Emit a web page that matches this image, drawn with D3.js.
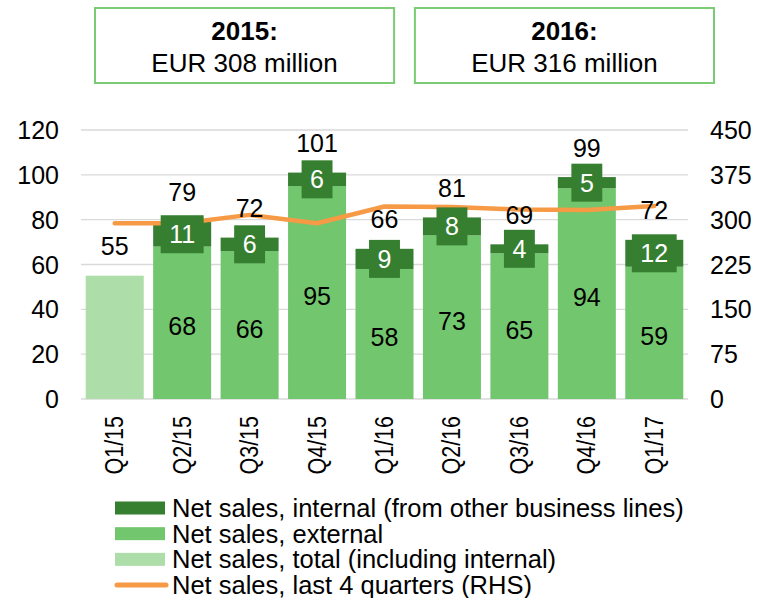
<!DOCTYPE html>
<html>
<head>
<meta charset="utf-8">
<script src="https://cdn.jsdelivr.net/npm/d3@7/dist/d3.min.js"></script>
<style>
  body { margin: 0; background: #fff; }
  text { font-family: "Liberation Sans", Arial, sans-serif; fill: #000; }
</style>
</head>
<body>
<div id="chart"></div>
<script>
(function() {
  var width = 765, height = 598

  var quarters = ['Q1/15', 'Q2/15', 'Q3/15', 'Q4/15', 'Q1/16', 'Q2/16', 'Q3/16', 'Q4/16', 'Q1/17']
  var external = [null, 68, 66, 95, 58, 73, 65, 94, 59]
  var internal = [null, 11, 6, 6, 9, 8, 4, 5, 12]
  var totals = [55, 79, 72, 101, 66, 81, 69, 99, 72]
  var rolling = [294, 294, 308, 294, 322, 321, 317, 316, 323]

  var leftTicks = [0, 20, 40, 60, 80, 100, 120]
  var rightTicks = [0, 75, 150, 225, 300, 375, 450]

  var yearBoxes = [
    {"year": "2015:", "text": "EUR 308 million"},
    {"year": "2016:", "text": "EUR 316 million"}]

  var legendItems = [
    {"label": "Net sales, internal (from other business lines)", "kind": "internal"},
    {"label": "Net sales, external", "kind": "external"},
    {"label": "Net sales, total (including internal)", "kind": "total"},
    {"label": "Net sales, last 4 quarters (RHS)", "kind": "line"}]

  var colors = {
    internal: "#367f31",
    external: "#72c66e",
    total: "#addda8",
    line: "#f79a45",
    grid: "#d9d9d9",
    box: "#7acb73"
  }

  var svg = d3.select("#chart")
    .append("svg")
    .attr("width", width)
    .attr("height", height)

  var xScale = d3.scaleBand().domain(quarters).range([81, 688]).paddingInner(0.14).paddingOuter(0.07)
  var yScale = d3.scaleLinear().domain([0, 120]).range([399, 130])
  var y2Scale = d3.scaleLinear().domain([0, 450]).range([399, 130])

  var rows = quarters.map(function(q, i) {
    return {q: q, ext: external[i], int: internal[i], total: totals[i], roll: rolling[i]}
  })

  // year boxes on top
  var boxScale = d3.scaleBand().domain(yearBoxes.map(function(d) { return d.year })).range([95, 714]).paddingInner(0.065)
  var boxes = svg.selectAll(".yearbox")
    .data(yearBoxes)
    .enter().append("g")
    .attr("class", "yearbox")
    .attr("transform", function(d) { return "translate(" + boxScale(d.year) + ",8)" })

  boxes.append("rect")
    .attr("width", boxScale.bandwidth())
    .attr("height", 75)
    .attr("fill", "none")
    .attr("stroke", colors.box)
    .attr("stroke-width", 2)

  boxes.append("text")
    .attr("x", boxScale.bandwidth() / 2)
    .attr("y", 32)
    .style("font-size", "26px")
    .style("font-weight", "bold")
    .style("text-anchor", "middle")
    .text(function(d) { return d.year })

  boxes.append("text")
    .attr("x", boxScale.bandwidth() / 2)
    .attr("y", 64)
    .style("font-size", "26px")
    .style("text-anchor", "middle")
    .text(function(d) { return d.text })

  // gridlines
  svg.selectAll(".grid")
    .data(leftTicks)
    .enter().append("line")
    .attr("class", "grid")
    .attr("x1", 81)
    .attr("x2", 688)
    .attr("y1", function(d) { return yScale(d) })
    .attr("y2", function(d) { return yScale(d) })
    .attr("stroke", colors.grid)
    .attr("stroke-width", 1.3)

  // axis labels
  svg.selectAll(".ltick")
    .data(leftTicks)
    .enter().append("text")
    .attr("class", "ltick")
    .attr("x", 59)
    .attr("y", function(d) { return yScale(d) + 9 })
    .style("font-size", "25px")
    .style("text-anchor", "end")
    .text(function(d) { return d })

  svg.selectAll(".rtick")
    .data(rightTicks)
    .enter().append("text")
    .attr("class", "rtick")
    .attr("x", 710)
    .attr("y", function(d) { return y2Scale(d) + 9 })
    .style("font-size", "25px")
    .style("text-anchor", "start")
    .text(function(d) { return d })

  svg.selectAll(".xlabel")
    .data(quarters)
    .enter().append("text")
    .attr("class", "xlabel")
    .attr("transform", function(d) {
      return "translate(" + (xScale(d) + xScale.bandwidth() / 2 + 8.5) + ",416) rotate(-90) scale(0.86,1)"
    })
    .style("font-size", "25px")
    .style("text-anchor", "end")
    .text(function(d) { return d })

  // bars
  svg.selectAll(".totalbar")
    .data(rows.filter(function(d) { return d.ext === null }))
    .enter().append("rect")
    .attr("class", "totalbar")
    .attr("x", function(d) { return xScale(d.q) })
    .attr("width", xScale.bandwidth())
    .attr("y", function(d) { return yScale(d.total) })
    .attr("height", function(d) { return yScale(0) - yScale(d.total) })
    .attr("fill", colors.total)

  var stacked = rows.filter(function(d) { return d.ext !== null })

  svg.selectAll(".extbar")
    .data(stacked)
    .enter().append("rect")
    .attr("class", "extbar")
    .attr("x", function(d) { return xScale(d.q) })
    .attr("width", xScale.bandwidth())
    .attr("y", function(d) { return yScale(d.ext) })
    .attr("height", function(d) { return yScale(0) - yScale(d.ext) })
    .attr("fill", colors.external)

  svg.selectAll(".intbar")
    .data(stacked)
    .enter().append("rect")
    .attr("class", "intbar")
    .attr("x", function(d) { return xScale(d.q) })
    .attr("width", xScale.bandwidth())
    .attr("y", function(d) { return yScale(d.ext + d.int) })
    .attr("height", function(d) { return yScale(d.ext) - yScale(d.ext + d.int) })
    .attr("fill", colors.internal)

  // rolling 4 quarters line
  var line = d3.line()
    .x(function(d) { return xScale(d.q) + xScale.bandwidth() / 2 })
    .y(function(d) { return y2Scale(d.roll) })

  svg.append("path")
    .datum(rows)
    .attr("d", line)
    .attr("fill", "none")
    .attr("stroke", colors.line)
    .attr("stroke-width", 4.5)
    .attr("stroke-linecap", "round")
    .attr("stroke-linejoin", "round")

  // internal labels in dark boxes
  var intLabels = svg.selectAll(".intlabel")
    .data(stacked)
    .enter().append("g")
    .attr("class", "intlabel")
    .attr("transform", function(d) {
      var cy = (yScale(d.ext) + yScale(d.ext + d.int)) / 2
      return "translate(" + (xScale(d.q) + xScale.bandwidth() / 2) + "," + cy + ")"
    })

  var intText = intLabels.append("text")
    .attr("y", 9)
    .style("font-size", "25px")
    .style("text-anchor", "middle")
    .style("fill", "#fff")
    .text(function(d) { return d.int })

  intLabels.insert("rect", "text")
    .each(function(d, i) {
      var w = intText.nodes()[i].getComputedTextLength() + 17
      d3.select(this)
        .attr("x", -w / 2)
        .attr("width", w)
        .attr("y", -19)
        .attr("height", 38)
    })
    .attr("fill", colors.internal)

  // external labels
  svg.selectAll(".extlabel")
    .data(stacked)
    .enter().append("text")
    .attr("class", "extlabel")
    .attr("x", function(d) { return xScale(d.q) + xScale.bandwidth() / 2 })
    .attr("y", function(d) { return yScale(d.ext / 2) + 12.5 })
    .style("font-size", "25px")
    .style("text-anchor", "middle")
    .text(function(d) { return d.ext })

  // total labels
  svg.selectAll(".totallabel")
    .data(rows)
    .enter().append("text")
    .attr("class", "totallabel")
    .attr("x", function(d) { return xScale(d.q) + xScale.bandwidth() / 2 })
    .attr("y", function(d) {
      var top = d.ext === null ? d.total : d.ext + d.int
      return yScale(top) - 20.5
    })
    .style("font-size", "25px")
    .style("text-anchor", "middle")
    .text(function(d) { return d.total })

  // legend
  var legendY = d3.scalePoint().domain(legendItems.map(function(d) { return d.kind })).range([508, 585])

  var legend = svg.selectAll(".legend")
    .data(legendItems)
    .enter().append("g")
    .attr("class", "legend")
    .attr("transform", function(d) { return "translate(115," + legendY(d.kind) + ")" })

  legend.filter(function(d) { return d.kind !== "line" })
    .append("rect")
    .attr("x", 0)
    .attr("y", -6.5)
    .attr("width", 50)
    .attr("height", 13)
    .attr("fill", function(d) { return colors[d.kind] })

  legend.filter(function(d) { return d.kind === "line" })
    .append("line")
    .attr("x1", 2)
    .attr("x2", 51)
    .attr("y1", 0)
    .attr("y2", 0)
    .attr("stroke", colors.line)
    .attr("stroke-width", 5)
    .attr("stroke-linecap", "round")

  legend.append("text")
    .attr("x", 57)
    .attr("y", 9)
    .style("font-size", "25.5px")
    .text(function(d) { return d.label })
})();
</script>
</body>
</html>
